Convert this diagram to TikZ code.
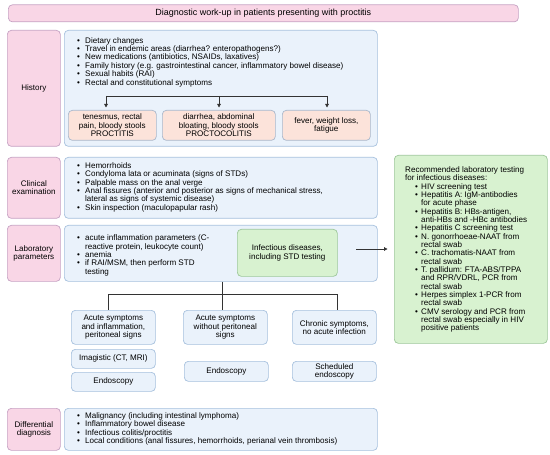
\documentclass[tikz,border=0pt]{standalone}
\usepackage{fontspec}
\setmainfont{Liberation Sans}
\usetikzlibrary{arrows.meta}
\definecolor{pinkf}{HTML}{F9D6E6}
\definecolor{pinkd}{HTML}{C7A3C4}
\definecolor{bluef}{HTML}{EAF2FB}
\definecolor{blued}{HTML}{A7C1DE}
\definecolor{salf}{HTML}{FCE3DA}
\definecolor{sald}{HTML}{A9B8CC}
\definecolor{grnf}{HTML}{D8F2D0}
\definecolor{grnd}{HTML}{9DC79A}
\definecolor{lnc}{HTML}{333333}
\newcommand\fs{\fontsize{8.1}{8.4}\selectfont}
\newcommand\fsr{\fontsize{8.1}{8.3}\selectfont}
\newcommand\B{\makebox[8bp][l]{\textbullet}}
\newcommand\Br{\makebox[6bp][l]{\textbullet}}
\begin{document}
\begin{tikzpicture}[x=1bp,y=-1bp,
  box/.style={draw, rounded corners=4bp, line width=0.7bp, inner sep=0pt, anchor=north west, align=center, font=\fs, text=black},
  lab/.style={box, fill=pinkf, draw=pinkd},
  cont/.style={box, fill=bluef, draw=blued},
  sal/.style={box, fill=salf, draw=sald},
  grn/.style={box, fill=grnf, draw=grnd},
  txt/.style={anchor=base west, inner sep=0pt, font=\fs},
  ln/.style={draw=lnc, line width=0.8bp},
  arr/.style={ln, -{Triangle[length=3.5bp,width=3.6bp]}}
]
\useasboundingbox (0,0) rectangle (550,455);
\fill[white] (0,0) rectangle (550,455);

% title
\node[lab, minimum width=510bp, minimum height=17bp, font=\fontsize{9}{10}\selectfont] (title) at (8,4.5) {Diagnostic work-up in patients presenting with proctitis};

% History
\node[lab, minimum width=53bp, minimum height=116bp] (hl) at (7,30) {History};
\node[cont, minimum width=313bp, minimum height=116bp] (hc) at (64,30) {};
\node[txt] (ht) at (77,43.2) {\fs\begin{tabular}[t]{@{}l@{}l@{}}
\B & Dietary changes\\
\B & Travel in endemic areas (diarrhea? enteropathogens?)\\
\B & New medications (antibiotics, NSAIDs, laxatives)\\
\B & Family history (e.g. gastrointestinal cancer, inflammatory bowel disease)\\
\B & Sexual habits (RAI)\\
\B & Rectal and constitutional symptoms
\end{tabular}};
\node[sal, minimum width=88bp, minimum height=30bp] (p1) at (68,110) {tenesmus, rectal\\pain, bloody stools\\PROCTITIS};
\node[sal, minimum width=113bp, minimum height=30bp] (p2) at (162,110) {diarrhea, abdominal\\bloating, bloody stools\\PROCTOCOLITIS};
\node[sal, minimum width=88bp, minimum height=30bp] (p3) at (282,110) {fever, weight loss,\\fatigue};
\coordinate (h1) at (106,96);
\coordinate (h2) at (219,96);
\coordinate (h3) at (327,96);
\draw[ln] (h1) -- (h3);
\draw[arr, shorten >=2.5bp] (h1) -- (h1 |- p1.north);
\draw[arr, shorten >=2.5bp] (h2) -- (h2 |- p2.north);
\draw[arr, shorten >=2.5bp] (h3) -- (h3 |- p3.north);

% Clinical
\node[lab, minimum width=53bp, minimum height=61bp] (cl) at (7,157) {Clinical\\examination};
\node[cont, minimum width=313bp, minimum height=61bp] (cc) at (64,157) {};
\node[txt] (ct) at (77,168.5) {\fs\begin{tabular}[t]{@{}l@{}l@{}}
\B & Hemorrhoids\\
\B & Condyloma lata or acuminata (signs of STDs)\\
\B & Palpable mass on the anal verge\\
\B & Anal fissures (anterior and posterior as signs of mechanical stress,\\
   & lateral as signs of systemic disease)\\
\B & Skin inspection (maculopapular rash)
\end{tabular}};

% Laboratory
\node[lab, minimum width=53bp, minimum height=56bp] (ll) at (7,225) {Laboratory\\parameters};
\node[cont, minimum width=313bp, minimum height=56bp] (lc) at (64,225) {};
\node[txt] (lt) at (77,240.8) {\fs\begin{tabular}[t]{@{}l@{}l@{}}
\B & acute inflammation parameters (C-\\
   & reactive protein, leukocyte count)\\
\B & anemia\\
\B & if RAI/MSM, then perform STD\\
   & testing
\end{tabular}};
\node[grn, minimum width=100bp, minimum height=47bp] (inf) at (237,229) {Infectious diseases,\\including STD testing};

% Recommended
\node[grn, minimum width=153bp, minimum height=188bp] (rec) at (394,155) {};
\node[txt] (rt) at (405,172.5) {\fsr\begin{tabular}[t]{@{}p{10bp}@{}l@{}l@{}}
\multicolumn{3}{@{}l@{}}{Recommended laboratory testing}\\
\multicolumn{3}{@{}l@{}}{for infectious diseases:}\\
 & \Br & HIV screening test\\
 & \Br & Hepatitis A: IgM-antibodies\\
 &     & for acute phase\\
 & \Br & Hepatitis B: HBs-antigen,\\
 &     & anti-HBs and -HBc antibodies\\
 & \Br & Hepatitis C screening test\\
 & \Br & N. gonorrhoeae-NAAT from\\
 &     & rectal swab\\
 & \Br & C. trachomatis-NAAT from\\
 &     & rectal swab\\
 & \Br & T. pallidum: FTA-ABS/TPPA\\
 &     & and RPR/VDRL, PCR from\\
 &     & rectal swab\\
 & \Br & Herpes simplex 1-PCR from\\
 &     & rectal swab\\
 & \Br & CMV serology and PCR from\\
 &     & rectal swab especially in HIV\\
 &     & positive patients
\end{tabular}};
\coordinate (ra) at (356,249);
\draw[arr, shorten >=6.5bp] (ra) -- (ra -| rec.west);

% tree
\node[cont, minimum width=84bp, minimum height=34bp] (a1) at (71,310) {Acute symptoms\\and inflammation,\\peritoneal signs};
\node[cont, minimum width=84bp, minimum height=34bp] (a2) at (183,310) {Acute symptoms\\without peritoneal\\signs};
\node[cont, minimum width=84bp, minimum height=34bp] (a3) at (292,310) {Chronic symptoms,\\no acute infection};
\node[cont, minimum width=84bp, minimum height=19bp] (im) at (71,349) {Imagistic (CT, MRI)};
\node[cont, minimum width=84bp, minimum height=19bp] (e1) at (71,372) {Endoscopy};
\node[cont, minimum width=84bp, minimum height=20bp] (e2) at (184,361) {Endoscopy};
\node[cont, minimum width=84bp, minimum height=20bp] (e3) at (292,361) {Scheduled\\endoscopy};
\coordinate (t0) at (222,294);
\coordinate (tl) at (108,294);
\coordinate (tr) at (337,294);
\draw[ln] (t0 |- lc.south) -- (t0);
\draw[ln] (tl) -- (tr);
\draw[ln] (tl) -- (tl |- a1.north);
\draw[ln] (t0) -- (t0 |- a2.north);
\draw[ln] (tr) -- (tr |- a3.north);

% Differential
\node[lab, minimum width=53bp, minimum height=42bp] (dl) at (7,408) {Differential\\diagnosis};
\node[cont, minimum width=313bp, minimum height=42bp] (dc) at (64,408) {};
\node[txt] (dt) at (77,418.6) {\fs\begin{tabular}[t]{@{}l@{}l@{}}
\B & Malignancy (including intestinal lymphoma)\\
\B & Inflammatory bowel disease\\
\B & Infectious colitis/proctitis\\
\B & Local conditions (anal fissures, hemorrhoids, perianal vein thrombosis)
\end{tabular}};
\end{tikzpicture}
\end{document}
